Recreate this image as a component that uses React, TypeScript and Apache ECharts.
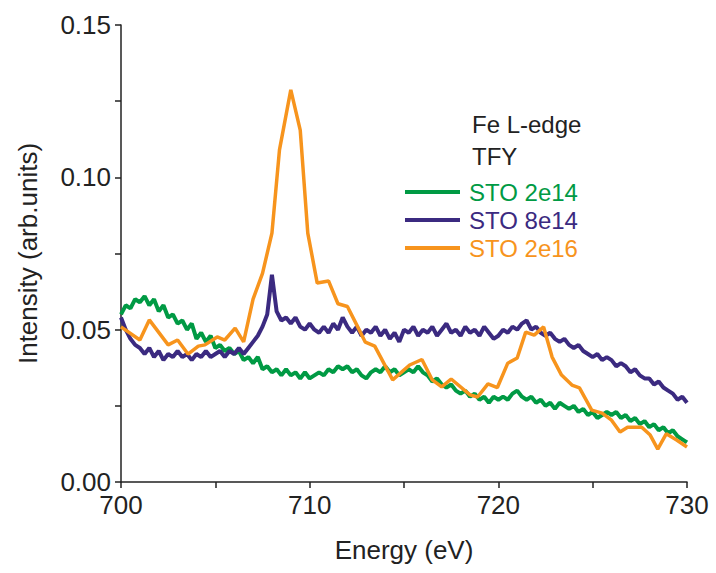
import React, { useEffect, useRef } from "react";
import * as echarts from "echarts";

// Energy grid (eV) for the two finely-sampled series
const gridEnergy: number[] = [];
for (let i = 0; i <= 120; i++) gridEnergy.push(700 + i * 0.25);

const sto2e14: number[] = [
  0.055, 0.058, 0.057, 0.060, 0.059, 0.061, 0.058, 0.060, 0.056, 0.058,
  0.054, 0.055, 0.052, 0.053, 0.050, 0.052, 0.047, 0.049, 0.046, 0.048,
  0.044, 0.045, 0.043, 0.044, 0.042, 0.043, 0.040, 0.041, 0.039, 0.041,
  0.037, 0.038, 0.036, 0.037, 0.035, 0.037, 0.035, 0.036, 0.034, 0.036,
  0.034, 0.035, 0.036, 0.035, 0.037, 0.036, 0.038, 0.037, 0.038, 0.036,
  0.037, 0.035, 0.034, 0.036, 0.037, 0.036, 0.038, 0.036, 0.037, 0.035,
  0.036, 0.037, 0.036, 0.038, 0.036, 0.035, 0.033, 0.034, 0.032, 0.031,
  0.032, 0.030, 0.029, 0.030, 0.028, 0.029, 0.027, 0.028, 0.026, 0.028,
  0.027, 0.028, 0.027, 0.029, 0.030, 0.028, 0.027, 0.028, 0.026, 0.027,
  0.025, 0.026, 0.024, 0.026, 0.025, 0.024, 0.025, 0.023, 0.024, 0.022,
  0.023, 0.021, 0.022, 0.023, 0.022, 0.023, 0.021, 0.022, 0.020, 0.021,
  0.019, 0.020, 0.018, 0.019, 0.017, 0.018, 0.016, 0.017, 0.015, 0.014,
  0.013,
];

const sto8e14: number[] = [
  0.054, 0.050, 0.047, 0.045, 0.044, 0.042, 0.044, 0.041, 0.043, 0.040,
  0.042, 0.041, 0.043, 0.041, 0.042, 0.040, 0.042, 0.041, 0.043, 0.041,
  0.042, 0.043, 0.041, 0.043, 0.042, 0.044, 0.042, 0.044, 0.046, 0.048,
  0.051, 0.055, 0.068, 0.056, 0.053, 0.054, 0.052, 0.054, 0.051, 0.050,
  0.052, 0.050, 0.049, 0.051, 0.049, 0.052, 0.050, 0.054, 0.051, 0.049,
  0.051, 0.048, 0.050, 0.049, 0.051, 0.048, 0.050, 0.047, 0.049, 0.046,
  0.050, 0.049, 0.051, 0.048, 0.050, 0.049, 0.051, 0.048, 0.050, 0.052,
  0.049, 0.050, 0.048, 0.051, 0.049, 0.050, 0.048, 0.051, 0.049, 0.047,
  0.048, 0.050, 0.049, 0.051, 0.050, 0.052, 0.053, 0.050, 0.051, 0.049,
  0.048, 0.049, 0.047, 0.046, 0.047, 0.045, 0.044, 0.045, 0.043, 0.042,
  0.041, 0.042, 0.040, 0.041, 0.040, 0.038, 0.039, 0.038, 0.036, 0.037,
  0.035, 0.034, 0.034, 0.032, 0.033, 0.031, 0.030, 0.029, 0.027, 0.028,
  0.026,
];

const sto2e16Energy: number[] = [
  700.0, 701.0, 701.5, 702.5, 703.0, 703.55, 704.1, 704.45, 705.1, 705.5,
  706.05, 706.5, 707.0, 707.5, 708.0, 708.4, 709.0, 709.5, 709.9, 710.4,
  711.0, 711.5, 712.0, 712.5, 712.95, 713.45, 714.4, 715.3, 715.95, 716.5,
  717.0, 717.5, 718.5, 718.9, 719.45, 719.95, 720.5, 721.0, 721.45, 721.9,
  722.4, 722.85, 723.35, 723.9, 724.3, 724.95, 725.5, 726.0, 726.45, 726.85,
  727.6, 728.05, 728.45, 728.9, 729.45, 730.0,
];
const sto2e16: number[] = [
  0.0509, 0.0466, 0.0532, 0.0450, 0.0466, 0.0420, 0.0446, 0.0450, 0.0476, 0.0466,
  0.0505, 0.0460, 0.0600, 0.0685, 0.0817, 0.1090, 0.1287, 0.1155, 0.0817, 0.0653,
  0.0660, 0.0585, 0.0576, 0.0515, 0.0459, 0.0446, 0.0335, 0.0384, 0.0402, 0.0335,
  0.0312, 0.0338, 0.0286, 0.0279, 0.0322, 0.0310, 0.0390, 0.0407, 0.0492, 0.0482,
  0.0509, 0.0410, 0.0351, 0.0318, 0.0309, 0.0236, 0.0226, 0.0203, 0.0164, 0.0180,
  0.0180, 0.0154, 0.0108, 0.0158, 0.0138, 0.0115,
];

const xTicks = { min: 700, max: 730, interval: 10 };
const yTicks = { min: 0, max: 0.15, interval: 0.05 };

const GREEN = "#009a44";
const PURPLE = "#3b2a80";
const ORANGE = "#f7941d";
const FONT = "Liberation Sans, Arial, sans-serif";
const FS = 26;

export default function App() {
  const ref = useRef<HTMLDivElement>(null);
  useEffect(() => {
    if (!ref.current) return;
    const chart = echarts.init(ref.current, undefined, { renderer: "svg" });
    const zip = (xs: number[], ys: number[]) => ys.map((y, i) => [xs[i], y]);
    chart.setOption({
      animation: false,
      backgroundColor: "#ffffff",
      textStyle: { fontFamily: FONT },
      grid: { left: 121, right: 29, top: 25, bottom: 91, containLabel: false },
      xAxis: {
        type: "value",
        min: xTicks.min,
        max: xTicks.max,
        interval: xTicks.interval,
        name: "Energy (eV)",
        nameLocation: "middle",
        nameGap: 55,
        nameTextStyle: { fontSize: FS, color: "#222", fontFamily: FONT },
        axisLine: { show: true, onZero: false, lineStyle: { color: "#222", width: 1.5 } },
        axisTick: { show: true, inside: false, length: 6, lineStyle: { color: "#222", width: 1.5 } },
        minorTick: { show: true, splitNumber: 2, length: 6, lineStyle: { color: "#222", width: 1.5 } },
        axisLabel: { fontSize: FS, color: "#222", margin: 10, fontFamily: FONT },
        splitLine: { show: false },
      },
      yAxis: {
        type: "value",
        min: yTicks.min,
        max: yTicks.max,
        interval: yTicks.interval,
        name: "Intensity (arb.units)",
        nameLocation: "middle",
        nameGap: 80,
        nameRotate: 90,
        nameTextStyle: { fontSize: FS, color: "#222", fontFamily: FONT },
        axisLine: { show: true, lineStyle: { color: "#222", width: 1.5 } },
        axisTick: { show: true, inside: false, length: 6, lineStyle: { color: "#222", width: 1.5 } },
        minorTick: { show: true, splitNumber: 2, length: 6, lineStyle: { color: "#222", width: 1.5 } },
        axisLabel: {
          fontSize: FS,
          color: "#222",
          margin: 10,
          fontFamily: FONT,
          formatter: (v: number) => v.toFixed(2),
        },
        splitLine: { show: false },
      },
      legend: {
        orient: "vertical",
        left: 405,
        top: 180,
        icon: "rect",
        itemWidth: 55,
        itemHeight: 4,
        itemGap: 4,
        padding: 0,
        textStyle: { fontSize: 24, fontFamily: FONT, padding: [0, 0, 0, 4] },
        data: [
          { name: "STO 2e14", textStyle: { color: GREEN } },
          { name: "STO 8e14", textStyle: { color: PURPLE } },
          { name: "STO 2e16", textStyle: { color: ORANGE } },
        ],
      },
      graphic: [
        {
          type: "text",
          left: 472,
          top: 112,
          style: { text: "Fe L-edge", fontSize: 24, fill: "#222", fontFamily: FONT },
        },
        {
          type: "text",
          left: 472,
          top: 144,
          style: { text: "TFY", fontSize: 24, fill: "#222", fontFamily: FONT },
        },
      ],
      series: [
        {
          name: "STO 2e14",
          type: "line",
          data: zip(gridEnergy, sto2e14),
          showSymbol: false,
          lineStyle: { color: GREEN, width: 4 },
          itemStyle: { color: GREEN },
        },
        {
          name: "STO 8e14",
          type: "line",
          data: zip(gridEnergy, sto8e14),
          showSymbol: false,
          lineStyle: { color: PURPLE, width: 4 },
          itemStyle: { color: PURPLE },
        },
        {
          name: "STO 2e16",
          type: "line",
          data: zip(sto2e16Energy, sto2e16),
          showSymbol: false,
          lineStyle: { color: ORANGE, width: 3.5 },
          itemStyle: { color: ORANGE },
        },
      ],
    });
    return () => chart.dispose();
  }, []);
  return (
    <div
      ref={ref}
      style={{ position: "absolute", left: 0, top: 0, width: 716, height: 573 }}
    />
  );
}
